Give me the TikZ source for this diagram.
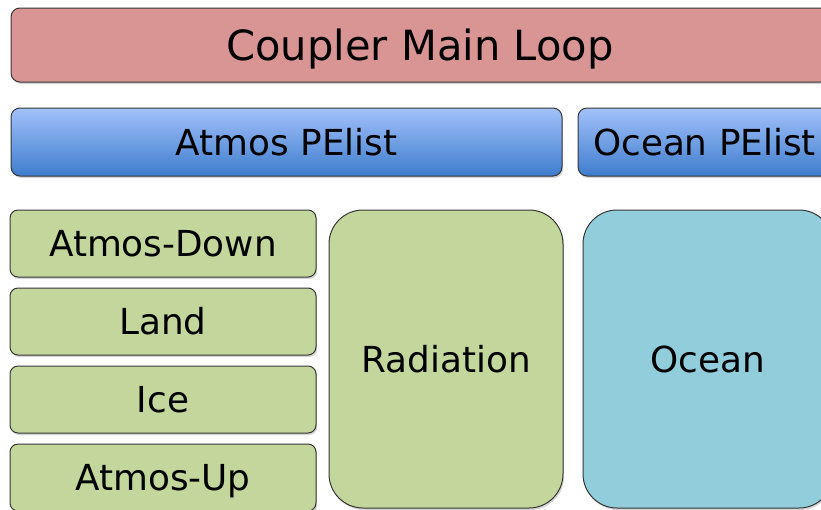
\documentclass[tikz,border=0pt]{standalone}
\usepackage{fontspec}
\setmainfont{DejaVu Sans}
\usetikzlibrary{shadows}

\definecolor{loopred}{RGB}{217,149,148}
\definecolor{pelisttop}{RGB}{162,193,250}
\definecolor{pelistbot}{RGB}{62,125,205}
\definecolor{compgreen}{RGB}{195,214,155}
\definecolor{compblue}{RGB}{146,205,220}
\definecolor{edgegray}{RGB}{55,55,55}

\begin{document}
\begin{tikzpicture}[x=1pt, y=-1pt,
    box/.style={draw=edgegray, line width=1pt, inner sep=0pt,
        text height=26pt, text depth=0pt,
        font=\fontsize{35.8}{43}\selectfont,
        drop shadow={shadow xshift=1.2pt, shadow yshift=-2pt, opacity=0.35}},
    mainloop/.style={box, rounded corners=9pt, fill=loopred,
        text height=30pt, font=\fontsize{41.6}{50}\selectfont},
    pelist/.style={box, rounded corners=9pt, top color=pelisttop, bottom color=pelistbot},
    smallcomp/.style={box, rounded corners=8pt, fill=compgreen},
    bigcomp/.style={box, rounded corners=34pt}]
    \useasboundingbox (0,0) rectangle (821,509);
    \clip (0,0) rectangle (821,509);

    \node[mainloop, minimum width=818pt, minimum height=74pt] (loop) at (420, 45) {Coupler Main Loop};

    \node[pelist, minimum width=551pt, minimum height=68pt] (atmospe) at (286.5, 142) {Atmos PElist};
    \node[pelist, minimum width=253pt, minimum height=68pt] (oceanpe) at (704.5, 142) {Ocean PElist};

    \node[smallcomp, minimum width=306pt, minimum height=67pt] (atmosdown) at (163, 243.5) {Atmos-Down};
    \node[smallcomp, minimum width=306pt, minimum height=67pt] (land) at (163, 321.5) {Land};
    \node[smallcomp, minimum width=306pt, minimum height=67pt] (ice) at (163, 399.5) {Ice};
    \node[smallcomp, minimum width=306pt, minimum height=67pt] (atmosup) at (163, 477.5) {Atmos-Up};

    \node[bigcomp, fill=compgreen, minimum width=234pt, minimum height=298pt] (radiation) at (446, 359) {Radiation};
    \node[bigcomp, fill=compblue, minimum width=250pt, minimum height=298pt] (ocean) at (708, 359) {Ocean};
\end{tikzpicture}
\end{document}
